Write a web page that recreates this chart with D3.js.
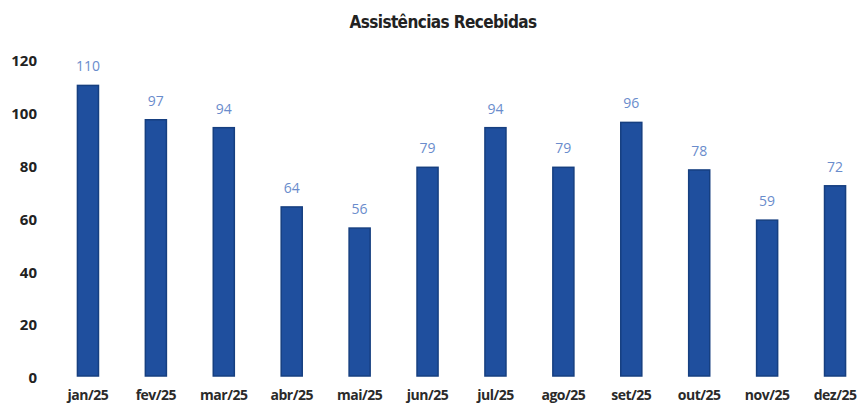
<!DOCTYPE html>
<html><head><meta charset="utf-8">
<script src="https://cdn.jsdelivr.net/npm/d3@7"></script>
<style>body{margin:0;background:#fff}</style>
</head><body>
<svg id="c" width="861" height="409"></svg>
<script>
const categories = ["jan/25","fev/25","mar/25","abr/25","mai/25","jun/25","jul/25","ago/25","set/25","out/25","nov/25","dez/25"];
const values = [110,97,94,64,56,79,94,79,96,78,59,72];
const yTicks = [0,20,40,60,80,100,120];
const title = "Assistências Recebidas";

const svg = d3.select("#c");
const x = d3.scaleBand().domain(categories).range([54,869]).paddingInner(0.69).paddingOuter(0.345);
const y = d3.scaleLinear().domain([0,120]).range([376,59]);

svg.append("text").attr("x",443).attr("y",28).attr("text-anchor","middle")
  .attr("font-family","'Liberation Sans Narrow','DejaVu Sans Condensed',Arial,sans-serif")
  .attr("font-weight","bold").attr("font-size",17).attr("letter-spacing","-0.6").attr("fill","#222")
  .text(title);

const ya = svg.append("g").attr("transform","translate(40,2)")
  .call(d3.axisLeft(y).tickValues(yTicks).tickSize(0).tickPadding(3));
ya.select(".domain").remove();
ya.selectAll("text").attr("font-family","'Open Sans',sans-serif").attr("font-weight","bold")
  .attr("font-size",15).attr("fill","#222");

const xa = svg.append("g").attr("transform","translate(0,386)")
  .call(d3.axisBottom(x).tickSize(0).tickPadding(4));
xa.select(".domain").remove();
xa.selectAll("text").attr("font-family","'Open Sans',sans-serif").attr("font-weight","bold")
  .attr("font-size",14).attr("letter-spacing","-0.5").attr("fill","#2a2a2a");

svg.append("g").selectAll("rect").data(values).join("rect")
  .attr("x",(d,i)=>x(categories[i])).attr("width",x.bandwidth())
  .attr("y",d=>y(d)).attr("height",d=>y(0)-y(d))
  .attr("fill","#1f4f9e").attr("stroke","#163f80").attr("stroke-width",1.5);

svg.append("g").selectAll("text").data(values).join("text")
  .attr("x",(d,i)=>x(categories[i])+x.bandwidth()/2).attr("y",d=>y(d)-14)
  .attr("text-anchor","middle").attr("font-family","'Liberation Sans Narrow','Open Sans',sans-serif")
  .attr("font-size",14).attr("fill","#6a8ccc").text(d=>d);
</script>
</body></html>
